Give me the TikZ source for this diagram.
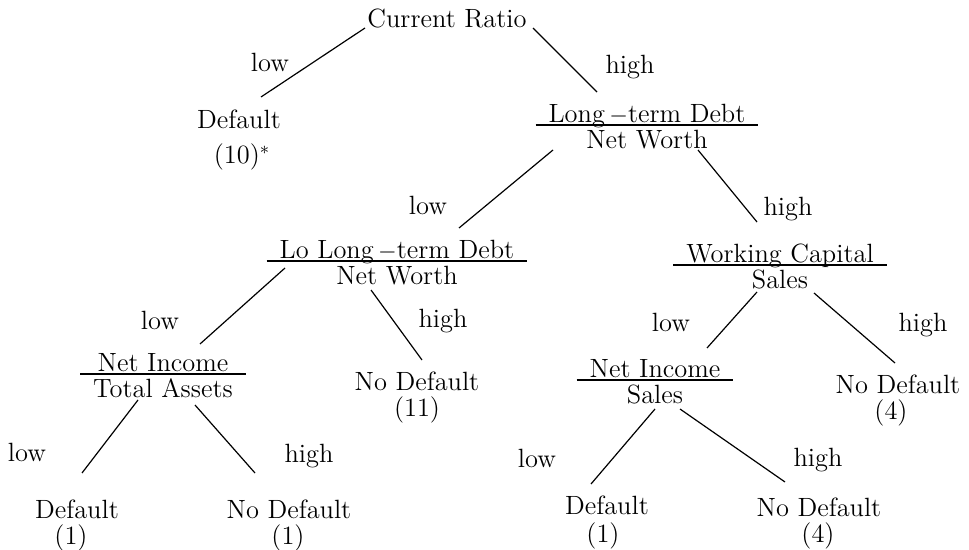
\documentclass[tikz,border=0pt]{standalone}
\usepackage{fontspec}
\usetikzlibrary{calc}
\setlength{\arrayrulewidth}{0.8pt}
\newcommand{\ratio}[2]{\begin{tabular}{@{\hspace{6.5pt}}c@{\hspace{6.5pt}}}#1\\[-4pt]\hline #2\end{tabular}}
\begin{document}
\begin{tikzpicture}[x=0.5pt,y=-0.5pt]
	\tikzset{every node/.style={inner sep=0pt, font=\fontsize{13.2}{16}\selectfont},
		br/.style={line width=0.6pt}};
	\useasboundingbox (0,0) rectangle (969,550);

	\node (root) at (447,18) {Current Ratio};
	\node (dflt) at (239,119) {Default};
	\node (dfltn) at (242,157) {(10)$^{*}$};
	\node (ltd) at (647,129) {\ratio{Long\,$-$term Debt}{Net Worth}};
	\node (lltd) at (397,265) {\ratio{Lo Long\,$-$term Debt}{Net Worth}};
	\node (wc) at (780,269) {\ratio{Working Capital}{Sales}};
	\node (nita) at (163,378) {\ratio{Net Income}{Total Assets}};
	\node (nd11) at (417,381) {No Default};
	\node (nd11n) at (417,410) {(11)};
	\node (nis) at (655,384) {\ratio{Net Income}{Sales}};
	\node (nd4) at (898,384) {No Default};
	\node (nd4n) at (891,413) {(4)};
	\node (dl) at (77,509) {Default};
	\node (dln) at (71,538) {(1)};
	\node (ndl) at (289,509) {No Default};
	\node (ndln) at (288,538) {(1)};
	\node (dr) at (607,505) {Default};
	\node (drn) at (603,536) {(1)};
	\node (ndr) at (819,507) {No Default};
	\node (ndrn) at (818,536) {(4)};

	% branch labels
	\node (low1) at (270,62) {low};
	\node (high1) at (630,67) {high};
	\node (low2) at (428,205) {low};
	\node (high2) at (788,209) {high};
	\node (low3) at (160,320) {low};
	\node (high3) at (443,321) {high};
	\node (low4) at (671,322) {low};
	\node (high4) at (923,325) {high};
	\node (low5) at (27,452) {low};
	\node (high5) at (309,456) {high};
	\node (low6) at (537,458) {low};
	\node (high6) at (818,460) {high};

	\draw[br] ($(root)+(-82,10)$) to ($(dflt)+(22,-22)$);
	\draw[br] ($(root)+(86,10)$) to ($(ltd)+(-50,-37)$);

	\draw[br] ($(ltd)+(-94,21)$) to ($(lltd)+(62,-37)$);
	\draw[br] ($(ltd)+(51,21)$) to ($(wc)+(-23,-47)$);

	\draw[br] ($(lltd)+(-112,3)$) to ($(nita)+(37,-34)$);
	\draw[br] ($(lltd)+(-26,25)$) to ($(nd11)+(5,-21)$);

	\draw[br] ($(nita)+(-25,22)$) to ($(dl)+(5,-36)$);
	\draw[br] ($(nita)+(32,27)$) to ($(ndl)+(-34,-36)$);

	\draw[br] ($(wc)+(-23,23)$) to ($(nis)+(52,-36)$);
	\draw[br] ($(wc)+(34,24)$) to ($(nd4)+(-3,-21)$);

	\draw[br] ($(nis)+(0,25)$) to ($(dr)+(-16,-21)$);
	\draw[br] ($(nis)+(25,25)$) to ($(ndr)+(-34,-25)$);

\end{tikzpicture}
\end{document}
